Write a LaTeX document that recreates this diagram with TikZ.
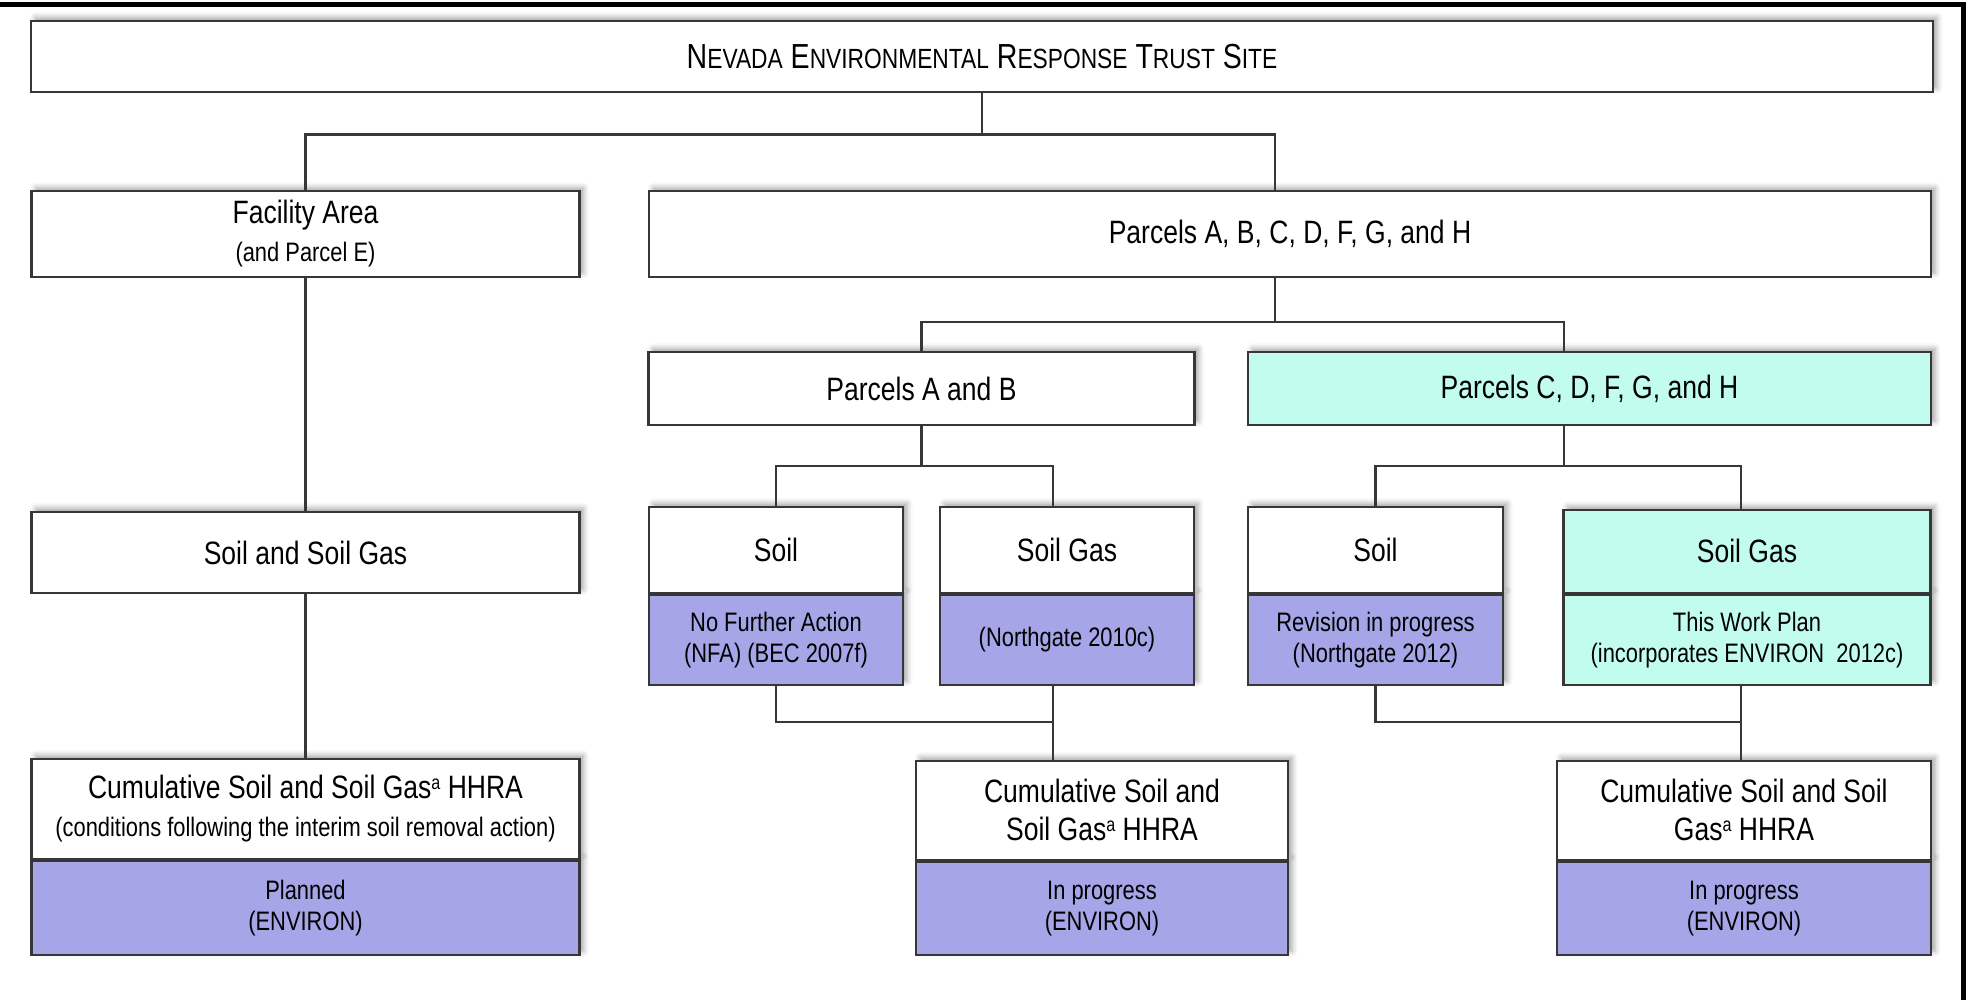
\documentclass[tikz,border=0pt]{standalone}
\usepackage{fontspec}
\setmainfont{Liberation Sans}[FakeStretch=0.82]
\usetikzlibrary{positioning,shadows.blur}
\definecolor{donepurple}{RGB}{165,165,232}
\definecolor{plancyan}{RGB}{194,252,238}
\definecolor{linegray}{RGB}{55,55,55}
\newcommand\bigfs{\fontsize{9.2}{10.8}\selectfont}
\newcommand\subfs{\fontsize{7.6}{9.0}\selectfont}
\newcommand\smc[1]{{\fontsize{7.9}{9}\selectfont #1}}
\newcommand\supa{\raisebox{0.55ex}{\fontsize{5.6}{6}\selectfont a}}
\tikzset{
  box/.style={draw=linegray, line width=0.6pt, fill=white, inner sep=0pt, align=center, font=\bigfs,
    blur shadow={shadow xshift=1.2pt, shadow yshift=1pt, shadow blur radius=1.5pt, shadow opacity=35}},
  done/.style={box, fill=donepurple, font=\subfs},
  plan/.style={box, fill=plancyan},
  link/.style={draw=linegray, line width=0.6pt},
}
\begin{document}
\begin{tikzpicture}
\useasboundingbox (0,0) rectangle (19.71,10.00);
\coordinate (TL) at (0.00, 9.955); % top left
\coordinate (TR) at (19.63, 9.955); % top right
\coordinate (BR) at (19.63, 0.00); % bottom right
\draw[line width=0.05cm] (TL) -- (TR) -- (BR);

% top rows
\node[box, minimum width=19.02cm, minimum height=0.71cm, font={\fontsize{9.9}{11}\selectfont}] (title) at (9.82, 9.435)
  {N\smc{EVADA} E\smc{NVIRONMENTAL} R\smc{ESPONSE} T\smc{RUST} S\smc{ITE}};
\node[box, minimum width=5.48cm, minimum height=0.855cm] (facility) at (3.055, 7.66)
  {Facility Area\\{\subfs (and Parcel E)}};
\node[box, minimum width=12.82cm, minimum height=0.855cm] (parcels) at (12.90, 7.66) {Parcels A, B, C, D, F, G, and H};
\node[box, minimum width=5.46cm, minimum height=0.73cm] (pab) at (9.215, 6.115) {Parcels A and B};
\node[plan, minimum width=6.83cm, minimum height=0.73cm] (pcd) at (15.895, 6.115) {Parcels C, D, F, G, and H};

% media
\node[box, minimum width=5.48cm, minimum height=0.815cm] (facsoil) at (3.055, 4.475) {Soil and Soil Gas};
\node[done, minimum width=2.54cm, minimum height=0.90cm] (soilabst) at (7.76, 3.60) {No Further Action\\(NFA) (BEC 2007f)};
\node[box, minimum width=2.54cm, minimum height=0.86cm, above=0pt of soilabst] (soilab) {Soil};
\node[done, minimum width=2.54cm, minimum height=0.90cm] (gasabst) at (10.67, 3.60) {(Northgate 2010c)};
\node[box, minimum width=2.54cm, minimum height=0.86cm, above=0pt of gasabst] (gasab) {Soil Gas};
\node[done, minimum width=2.55cm, minimum height=0.90cm] (soilcdst) at (13.755, 3.60) {Revision in progress\\(Northgate 2012)};
\node[box, minimum width=2.55cm, minimum height=0.86cm, above=0pt of soilcdst] (soilcd) {Soil};
\node[plan, font=\subfs, minimum width=3.67cm, minimum height=0.90cm] (gascdst) at (17.47, 3.60) {This Work Plan\\(incorporates ENVIRON\ \ 2012c)};
\node[plan, minimum width=3.67cm, minimum height=0.83cm, above=0pt of gascdst] (gascd) {Soil Gas};

% HHRA
\node[done, minimum width=5.48cm, minimum height=0.94cm] (cumfast) at (3.055, 0.92) {Planned\\(ENVIRON)};
\node[box, minimum width=5.48cm, minimum height=1.00cm, above=0pt of cumfast] (cumfa)
  {Cumulative Soil and Soil Gas\supa{} HHRA\\{\subfs (conditions following the interim soil removal action)}};
\node[done, minimum width=3.72cm, minimum height=0.93cm] (cumabst) at (11.02, 0.915) {In progress\\(ENVIRON)};
\node[box, minimum width=3.72cm, minimum height=0.99cm, above=0pt of cumabst] (cumab) {Cumulative Soil and\\Soil Gas\supa{} HHRA};
\node[done, minimum width=3.74cm, minimum height=0.93cm] (cumcdst) at (17.44, 0.915) {In progress\\(ENVIRON)};
\node[box, minimum width=3.74cm, minimum height=0.99cm, above=0pt of cumcdst] (cumcd) {Cumulative Soil and Soil\\Gas\supa{} HHRA};

% junctions
\coordinate (pj) at (12.75, 8.655);
\coordinate (cj) at (15.64, 6.78);
\coordinate (abg) at (10.53, 5.336);
\coordinate (cdg) at (17.41, 5.336);
\coordinate (abb) at (10.53, 2.78);
\coordinate (cdb) at (17.41, 2.78);

\draw[link] (title.south) -- (title.south |- pj);
\draw[link] (facility.north) |- (pj) -- (pj |- parcels.north);
\draw[link] (facility.south) -- (facsoil.north);
\draw[link] (facsoil.south) -- (cumfa.north);
\draw[link] (parcels.south -| pj) -- (pj |- cj);
\draw[link] (pab.north) |- (cj) -- (cj |- pcd.north);
\draw[link] (pab.south) -- (pab.south |- abg);
\draw[link] (soilab.north) |- (abg) -- (abg |- gasab.north);
\draw[link] (pcd.south -| cj) -- (cj |- cdg);
\draw[link] (soilcd.north) |- (cdg) -- (cdg |- gascd.north);
\draw[link] (soilabst.south) |- (abb) -- (abb |- cumab.north);
\draw[link] (gasabst.south -| abb) -- (abb);
\draw[link] (soilcdst.south) |- (cdb) -- (cdb |- cumcd.north);
\draw[link] (gascdst.south -| cdb) -- (cdb);

\end{tikzpicture}
\end{document}
